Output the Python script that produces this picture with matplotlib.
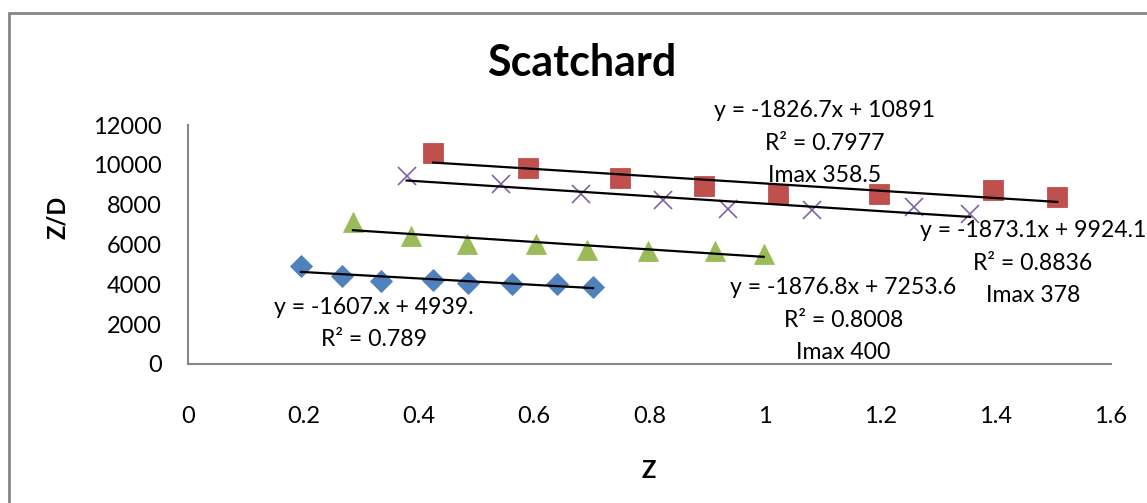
import matplotlib
matplotlib.use('Agg')
import matplotlib.pyplot as plt
from matplotlib.patches import Rectangle
import numpy as np

plt.rcParams['font.family'] = ['Lato', 'DejaVu Sans']

# Z values and Z/D values for the four runs
z_blue = [0.196, 0.267, 0.335, 0.424, 0.485, 0.561, 0.639, 0.702]
zd_blue = [4920, 4433, 4182, 4233, 4050, 4016, 4000, 3880]

z_red = [0.425, 0.590, 0.748, 0.895, 1.022, 1.197, 1.395, 1.507]
zd_red = [10607, 9824, 9337, 8936, 8534, 8534, 8735, 8368]

z_green = [0.286, 0.386, 0.484, 0.604, 0.691, 0.797, 0.913, 0.998]
zd_green = [7144, 6410, 6024, 6015, 5748, 5673, 5688, 5522]

z_purple = [0.379, 0.542, 0.682, 0.824, 0.936, 1.082, 1.258, 1.356]
zd_purple = [9453, 9036, 8519, 8233, 7796, 7731, 7866, 7530]

# linear fits (slope, intercept) as reported on the chart
slopes = [-1607.0, -1826.7, -1876.8, -1873.1]
intercepts = [4939.0, 10891.0, 7253.6, 9924.1]
fit_labels = [
    'y = -1607.x + 4939.\nR² = 0.789',
    'y = -1826.7x + 10891\nR² = 0.7977\nImax 358.5',
    'y = -1876.8x + 7253.6\nR² = 0.8008\nImax 400',
    'y = -1873.1x + 9924.1\nR² = 0.8836\nImax 378',
]
label_pos = [(0.322, 2030), (1.104, 11096), (1.136, 2209), (1.465, 5071)]

x_ticks = [0, 0.2, 0.4, 0.6, 0.8, 1, 1.2, 1.4, 1.6]
x_ticklabels = ['0', '0.2', '0.4', '0.6', '0.8', '1', '1.2', '1.4', '1.6']
y_ticks = [0, 2000, 4000, 6000, 8000, 10000, 12000]

series = [
    (z_blue, zd_blue, 'D', '#4F81BD', 11),
    (z_red, zd_red, 's', '#C0504D', 14),
    (z_green, zd_green, '^', '#9BBB59', 14),
    (z_purple, zd_purple, 'x', '#8064A2', 13),
]

W, H = 1147, 503
fig = plt.figure(figsize=(W / 100, H / 100), dpi=100)
ax = fig.add_axes([188 / W, 1 - 364 / H, (1111 - 188) / W, (364 - 125) / H])

for i, (xs, ys, mk, col, ms) in enumerate(series):
    if mk == 'x':
        ax.plot(xs, ys, mk, color=col, ms=ms, mew=1.2, zorder=3)
    else:
        ax.plot(xs, ys, mk, color=col, ms=ms, mec=col, mew=0.6, zorder=3)
    xl = np.array([min(xs), max(xs)])
    ax.plot(xl, slopes[i] * xl + intercepts[i], color='black', lw=1.6, zorder=4)
    ax.text(label_pos[i][0], label_pos[i][1], fit_labels[i], ha='center', va='center',
            fontsize=16.6, linespacing=1.68, zorder=5, clip_on=False)

ax.set_xlim(0, 1.6)
ax.set_ylim(0, 12000)
ax.set_xticks(x_ticks)
ax.set_xticklabels(x_ticklabels)
ax.set_yticks(y_ticks)
ax.tick_params(axis='both', length=0, labelsize=17)
ax.tick_params(axis='x', pad=30)
ax.tick_params(axis='y', pad=19)
for s in ['top', 'right']:
    ax.spines[s].set_visible(False)
for s in ['left', 'bottom']:
    ax.spines[s].set_color('#868686')
    ax.spines[s].set_linewidth(1.5)

fig.text(582 / W, 1 - 63 / H, 'Scatchard', ha='center', va='center',
         fontsize=31, fontweight='bold')
fig.text(649 / W, 1 - 471 / H, 'Z', ha='center', va='center',
         fontsize=17, fontweight='bold')
fig.text(58 / W, 1 - 217 / H, 'Z/D', ha='center', va='center',
         fontsize=17, fontweight='bold', rotation=90)

# chart area frame
fig.patches.append(Rectangle((9 / W, -0.2), 1.5, 1 - 13 / H + 0.2,
                             transform=fig.transFigure, fill=False,
                             edgecolor='#868686', lw=2))

fig.savefig('out.png', dpi=100)
